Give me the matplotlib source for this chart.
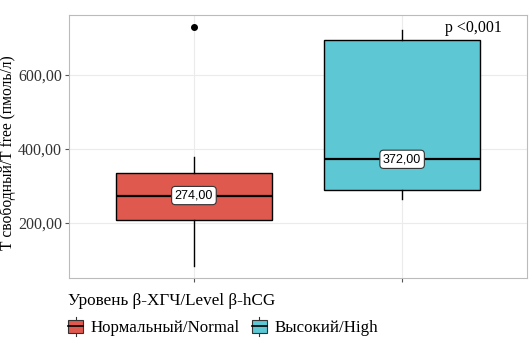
import matplotlib
matplotlib.use("Agg")
import matplotlib.pyplot as plt
from matplotlib.patches import Rectangle
from matplotlib.lines import Line2D
from matplotlib.legend_handler import HandlerBase

plt.rcParams['font.family'] = ['Liberation Serif', 'DejaVu Serif']

groups = ["Нормальный/Normal", "Высокий/High"]
colors = ["#E0594F", "#5DC7D3"]
# five-number summaries
whislo = [84, 265]
q1 = [208, 289]
med = [274, 372]
q3 = [335, 695]
whishi = [378, 722]
fliers = [[730], []]
median_labels = ["274,00", "372,00"]

stats = []
for i in range(len(groups)):
    stats.append(dict(whislo=whislo[i], q1=q1[i], med=med[i], q3=q3[i],
                      whishi=whishi[i], fliers=fliers[i], label=groups[i]))

fig = plt.figure(figsize=(5.31, 3.43), dpi=100)
ax = fig.add_axes([0.130, 0.1895, 0.8625, 0.7665])

bp = ax.bxp(stats, positions=[1, 2], widths=0.75, patch_artist=True,
            showcaps=False,
            medianprops=dict(color="black", linewidth=1.6),
            whiskerprops=dict(color="black", linewidth=1),
            boxprops=dict(edgecolor="black", linewidth=1),
            flierprops=dict(marker="o", markerfacecolor="black",
                            markeredgecolor="black", markersize=4))
for patch, c in zip(bp["boxes"], colors):
    patch.set_facecolor(c)
    patch.set_zorder(2)
for part in ("medians", "whiskers", "fliers"):
    for ln in bp[part]:
        ln.set_zorder(3)

for i, lab in enumerate(median_labels):
    ax.text(i + 1, med[i], lab, ha="center", va="center", fontsize=9,
            family=["Liberation Sans", "DejaVu Sans"], zorder=5,
            bbox=dict(boxstyle="round,pad=0.25,rounding_size=0.3",
                      facecolor="white", edgecolor="#333333", linewidth=0.8))

ax.text(2.48, 728, "p <0,001", ha="right", va="center", fontsize=11.5)

ax.set_xlim(0.4, 2.6)
ax.set_ylim(51, 762)
ax.set_xticks([1, 2])
ax.set_xticklabels(["", ""])
ax.set_yticks([200, 400, 600])
ax.set_yticklabels(["200,00", "400,00", "600,00"])
ax.tick_params(axis="both", colors="#555555", labelcolor="#333333",
               labelsize=11.5, length=3, width=0.8, pad=2)
ax.grid(True, color="#EBEBEB", linewidth=0.8, zorder=0)
ax.set_axisbelow(True)
for sp in ax.spines.values():
    sp.set_color("#BBBBBB")
    sp.set_linewidth(0.8)
ax.set_ylabel("Т свободный/Т free (пмоль/л)", fontsize=11.2, color="black",
              labelpad=3)
ax.yaxis.set_label_coords(-0.115, 0.478)


class BoxKeyHandler(HandlerBase):
    def create_artists(self, legend, orig_handle, xdescent, ydescent,
                       width, height, fontsize, trans):
        c = orig_handle.get_facecolor()
        w = width
        x0 = -xdescent
        r = Rectangle((x0, -ydescent), w, height, facecolor=c,
                      edgecolor="#333333", linewidth=0.8, transform=trans)
        m = Line2D([x0, x0 + w], [-ydescent + height / 2] * 2,
                   color="black", linewidth=1.2, transform=trans)
        v = Line2D([x0 + w / 2] * 2, [-ydescent - 2, -ydescent + height + 2],
                   color="#333333", linewidth=0.8, transform=trans)
        return [v, r, m]


handles = [Rectangle((0, 0), 1, 1, facecolor=c) for c in colors]
leg = fig.legend(handles, groups, loc="lower left",
                 bbox_to_anchor=(0.1, -0.025), ncol=2, frameon=False,
                 title="Уровень β-ХГЧ/Level β-hCG", title_fontsize=12.3,
                 fontsize=12.2, handler_map={Rectangle: BoxKeyHandler()},
                 handlelength=0.85, handleheight=0.8, handletextpad=0.45,
                 columnspacing=0.75)
leg._legend_box.align = "left"
leg._legend_box.sep = 8

fig.savefig("out.png", dpi=100)
